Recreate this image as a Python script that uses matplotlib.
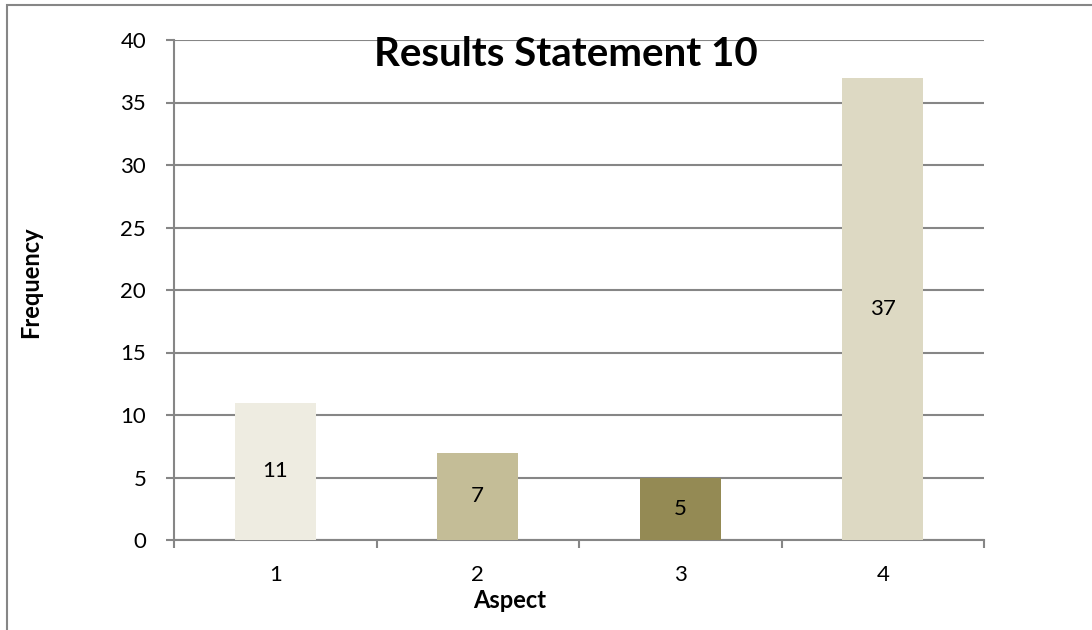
import numpy as np
import matplotlib.pyplot as plt
from matplotlib.patches import Rectangle

plt.rcParams['font.family'] = ['Lato', 'DejaVu Sans']

aspects = ['1', '2', '3', '4']
frequency = [11, 7, 5, 37]
bar_colours = ['#EEECE1', '#C4BD97', '#948A54', '#DDD9C3']

grey = '#868686'

fig = plt.figure(figsize=(10.92, 6.3), dpi=100)
ax = fig.add_axes([174 / 1092, 1 - 540 / 630, 810 / 1092, 500 / 630])

x = np.arange(1, len(aspects) + 1)
bars = ax.bar(x, frequency, width=0.4, color=bar_colours, zorder=3)

# value labels in the middle of each bar
for xi, v in zip(x, frequency):
    ax.text(xi, v / 2, str(v), ha='center', va='center', fontsize=16, zorder=4)

ax.set_xlim(0.5, len(aspects) + 0.5)
ax.set_ylim(0, 40)
ax.set_yticks(np.arange(0, 41, 5))
ax.yaxis.grid(True, color=grey, linewidth=1.5, zorder=0)
ax.set_axisbelow(True)

ax.set_xticks(x)
ax.set_xticklabels(aspects)
ax.set_xticks(np.arange(0.5, len(aspects) + 1, 1), minor=True)
ax.tick_params(axis='x', which='major', length=0, pad=18, labelsize=16)
ax.tick_params(axis='x', which='minor', length=6, width=1.5, color=grey, direction='out')
ax.tick_params(axis='y', length=6, width=1.5, color=grey, direction='out', pad=14, labelsize=16)

for side in ['top', 'right']:
    ax.spines[side].set_visible(False)
for side in ['left', 'bottom']:
    ax.spines[side].set_color(grey)
    ax.spines[side].set_linewidth(1.5)

fig.text(566 / 1092, 1 - 55 / 630, 'Results Statement 10', ha='center', va='center',
         fontsize=29, fontweight='bold')
fig.text(31 / 1092, 1 - 282 / 630, 'Frequency', ha='center', va='center',
         rotation=90, fontsize=17, fontweight='bold')
fig.text(510 / 1092, 1 - 600 / 630, 'Aspect', ha='center', va='center',
         fontsize=17, fontweight='bold')

# outer chart frame
fig.patches.append(Rectangle((7 / 1092, -0.1), 1.2, 1 - 5 / 630 + 0.1, transform=fig.transFigure,
                             fill=False, edgecolor=grey, linewidth=1.5))

fig.savefig('out.png', dpi=100)
